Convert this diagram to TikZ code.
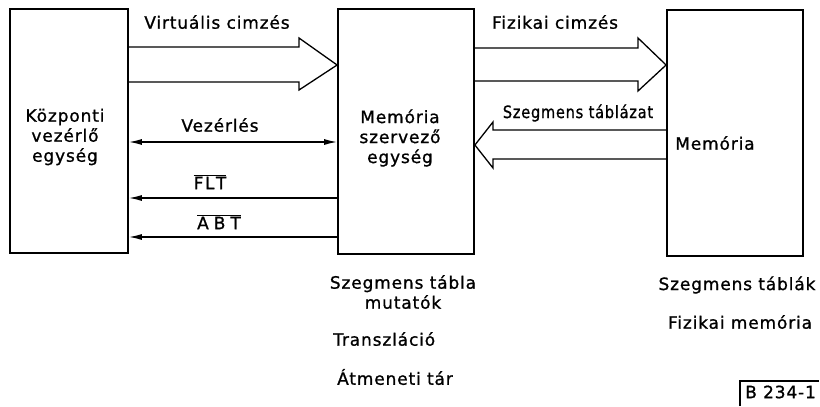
\documentclass[tikz,border=0pt]{standalone}
\usepackage{fontspec}
\usepackage{graphicx}
\setmainfont[LetterSpace=5,FakeBold=1]{DejaVu Sans}
\usetikzlibrary{arrows.meta}

\tikzset{
  unitbox/.style={draw, line width=1.8pt, inner sep=0pt, minimum width=#1},
  txt/.style={inner sep=0pt, font=\fontsize{17}{20}\selectfont},
  bus/.style={draw, line width=1.3pt, line join=miter},
  sig/.style={draw, line width=1.3pt},
  sigboth/.style={sig, {Latex[length=13pt,width=6pt]}-{Latex[length=13pt,width=6pt]}},
  sigleft/.style={sig, -{Latex[length=13pt,width=6pt]}},
}

\begin{document}
\begin{tikzpicture}[x=1pt,y=-1pt]
  \useasboundingbox (0,0) rectangle (820,407);
  \fill[white] (0,0) rectangle (820,407);

  % the three units
  \node[unitbox=118pt, minimum height=244pt] (cpu) at (69,131) {};
  \node[unitbox=136pt, minimum height=245pt] (mmu) at (406,131.5) {};
  \node[unitbox=136pt, minimum height=246pt] (mem) at (735,133) {};

  \node[txt, align=center] (cpuname) at (65,137) {Központi\\vezérlő\\egység};
  \node[txt, align=center] (mmuname) at (400,138) {Memória\\szervező\\egység};
  \node[txt] (memname) at (715,143) {Memória};

  % virtual address bus
  \draw[bus] (cpu.east |- 0,47) -- (299,47) -- (299,38) -- (mmu.west |- 0,65)
    -- (299,90) -- (299,82) -- (cpu.east |- 0,82);
  \node[txt] (virt) at (217,22) {Virtuális cimzés};

  % physical address bus
  \draw[bus] (mmu.east |- 0,48) -- (638,48) -- (638,38) -- (mem.west |- 0,65)
    -- (638,91) -- (638,81) -- (mmu.east |- 0,81);
  \node[txt] (phys) at (555,22) {Fizikai cimzés};

  % segment table bus
  \draw[bus] (mem.west |- 0,130) -- (493,130) -- (493,122) -- (mmu.east |- 0,145)
    -- (493,168) -- (493,159) -- (mem.west |- 0,159);
  \node[txt] (segtab) at (578,113) {\scalebox{0.86}[1]{Szegmens táblázat}};

  % control lines
  \draw[sigboth] (cpu.east |- 0,142) -- (mmu.west |- 0,142);
  \node[txt] (ctrl) at (220,125) {Vezérlés};

  \draw[sigleft] (mmu.west |- 0,198) -- (cpu.east |- 0,198);
  \node[txt] (flt) at (210,182) {$\overline{\hbox{F\kern1.5pt L\kern1.5pt T}}$};

  \draw[sigleft] (mmu.west |- 0,237) -- (cpu.east |- 0,237);
  \node[txt] (abt) at (219,222) {$\overline{\hbox{A\kern5pt B\kern5pt T}}$};

  % notes below the units
  \node[txt, align=center] (mmunote) at (403,292) {Szegmens tábla\\mutatók};
  \node[txt, anchor=west] (transl) at (333,339) {Transzláció};
  \node[txt, anchor=west] (buffer) at (337,377) {Átmeneti tár};

  \node[txt] (memnote1) at (737,285) {Szegmens táblák};
  \node[txt] (memnote2) at (740,322) {Fizikai memória};

  % drawing number
  \node[txt, anchor=west] (dwg) at (745,392) {B 234-1};
  \draw[line width=1.1pt] (740,406) -- (740,381) -- (819,381);
\end{tikzpicture}
\end{document}
